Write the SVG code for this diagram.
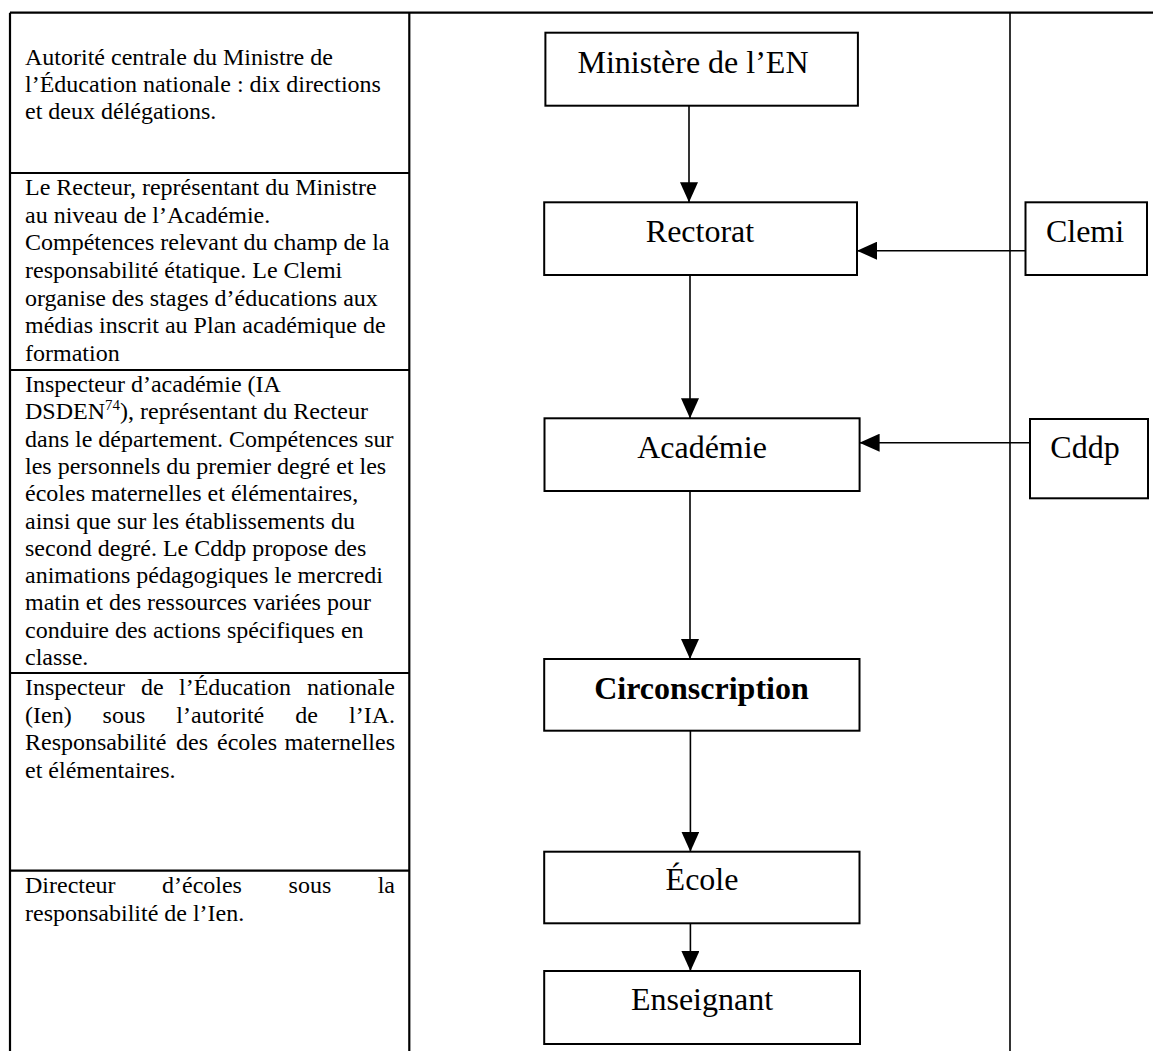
<svg xmlns="http://www.w3.org/2000/svg" width="1153" height="1051" viewBox="0 0 1153 1051">
<style>
  .tbl { stroke: #000; stroke-width: 2.2; fill: none; }
  .thin { stroke: #000; stroke-width: 1.6; fill: none; }
  .box { fill: #fff; stroke: #000; stroke-width: 2; }
  .conn { stroke: #000; stroke-width: 1.6; fill: none; }
  .desc { font-family: "Liberation Serif", "Times New Roman", serif; font-size: 24px; fill: #000; }
  .lbl { font-family: "Liberation Serif", "Times New Roman", serif; font-size: 32px; fill: #000; text-anchor: middle; }
  .bold { font-weight: bold; }
</style>
<defs>
  <marker id="ah" viewBox="0 0 10 10" refX="10" refY="5" markerWidth="20" markerHeight="18" markerUnits="userSpaceOnUse" orient="auto" preserveAspectRatio="none">
    <path d="M0,0 L10,5 L0,10 Z" fill="#000"/>
  </marker>
</defs>
<rect x="0" y="0" width="1153" height="1051" fill="#fff"/>

<g id="table">
  <line class="tbl" x1="10" y1="12.7" x2="1153" y2="12.7"/>
  <line class="tbl" x1="10" y1="12.7" x2="10" y2="1051"/>
  <line class="tbl" x1="409.3" y1="12.7" x2="409.3" y2="1051"/>
  <line class="thin" x1="1010" y1="12.7" x2="1010" y2="1051"/>
  <line class="tbl" x1="10" y1="173" x2="409.3" y2="173"/>
  <line class="tbl" x1="10" y1="370" x2="409.3" y2="370"/>
  <line class="tbl" x1="10" y1="673" x2="409.3" y2="673"/>
  <line class="tbl" x1="10" y1="870.7" x2="409.3" y2="870.7"/>
</g>

<g id="desc-ministere" class="desc">
  <text x="25" y="64.5">Autorité centrale du Ministre de</text>
  <text x="25" y="91.5">l’Éducation nationale : dix directions</text>
  <text x="25" y="118.5">et deux délégations.</text>
</g>
<g id="desc-rectorat" class="desc">
  <text x="25" y="195">Le Recteur, représentant du Ministre</text>
  <text x="25" y="222.7">au niveau de l’Académie.</text>
  <text x="25" y="250.4">Compétences relevant du champ de la</text>
  <text x="25" y="278">responsabilité étatique. Le Clemi</text>
  <text x="25" y="305.7">organise des stages d’éducations aux</text>
  <text x="25" y="333.4">médias inscrit au Plan académique de</text>
  <text x="25" y="361">formation</text>
</g>
<g id="desc-academie" class="desc">
  <text x="25" y="392">Inspecteur d’académie (IA</text>
  <text x="25" y="419.3">DSDEN<tspan font-size="15" dy="-9">74</tspan><tspan dy="9">), représentant du Recteur</tspan></text>
  <text x="25" y="446.6">dans le département. Compétences sur</text>
  <text x="25" y="473.9">les personnels du premier degré et les</text>
  <text x="25" y="501.2">écoles maternelles et élémentaires,</text>
  <text x="25" y="528.5">ainsi que sur les établissements du</text>
  <text x="25" y="555.8">second degré. Le Cddp propose des</text>
  <text x="25" y="583.1">animations pédagogiques le mercredi</text>
  <text x="25" y="610.4">matin et des ressources variées pour</text>
  <text x="25" y="637.7">conduire des actions spécifiques en</text>
  <text x="25" y="665">classe.</text>
</g>
<g id="desc-circonscription" class="desc">
  <text x="25" y="695">Inspecteur</text>
  <text x="141" y="695">de</text>
  <text x="179" y="695">l’Éducation</text>
  <text x="395" y="695" text-anchor="end">nationale</text>
  <text x="25" y="722.5">(Ien)</text>
  <text x="102.6" y="722.5">sous</text>
  <text x="176.3" y="722.5">l’autorité</text>
  <text x="295.3" y="722.5">de</text>
  <text x="395" y="722.5" text-anchor="end">l’IA.</text>
  <text x="25" y="750">Responsabilité</text>
  <text x="176" y="750">des</text>
  <text x="217" y="750">écoles</text>
  <text x="395" y="750" text-anchor="end">maternelles</text>
  <text x="25" y="777.5">et élémentaires.</text>
</g>
<g id="desc-ecole" class="desc">
  <text x="25" y="893">Directeur</text>
  <text x="162" y="893">d’écoles</text>
  <text x="288.6" y="893">sous</text>
  <text x="395" y="893" text-anchor="end">la</text>
  <text x="25" y="920.5">responsabilité de l’Ien.</text>
</g>

<g id="connectors">
  <line class="conn" x1="689" y1="105.7" x2="689" y2="202.3" marker-end="url(#ah)"/>
  <line class="conn" x1="690" y1="275" x2="690" y2="418.3" marker-end="url(#ah)"/>
  <line class="conn" x1="690" y1="491" x2="690" y2="659" marker-end="url(#ah)"/>
  <line class="conn" x1="690.4" y1="730.7" x2="690.4" y2="851.7" marker-end="url(#ah)"/>
  <line class="conn" x1="690.4" y1="923.3" x2="690.4" y2="971" marker-end="url(#ah)"/>
  <line class="conn" x1="1025.5" y1="250.7" x2="857" y2="250.7" marker-end="url(#ah)"/>
  <line class="conn" x1="1030" y1="442.7" x2="859.6" y2="442.7" marker-end="url(#ah)"/>
</g>

<g id="node-ministere">
  <rect class="box" x="545.4" y="32.7" width="312.5" height="73"/>
  <text class="lbl" x="693" y="73.3">Ministère de l’EN</text>
</g>
<g id="node-rectorat">
  <rect class="box" x="544.2" y="202.3" width="312.8" height="72.7"/>
  <text class="lbl" x="700" y="242.3">Rectorat</text>
</g>
<g id="node-clemi">
  <rect class="box" x="1025.5" y="202.3" width="121.5" height="72.7"/>
  <text class="lbl" x="1085" y="242.3">Clemi</text>
</g>
<g id="node-academie">
  <rect class="box" x="544.5" y="418.3" width="315.1" height="72.7"/>
  <text class="lbl" x="702" y="458.3">Académie</text>
</g>
<g id="node-cddp">
  <rect class="box" x="1030" y="419" width="118" height="79.3"/>
  <text class="lbl" x="1085" y="458.3">Cddp</text>
</g>
<g id="node-circonscription">
  <rect class="box" x="544.2" y="659" width="315.3" height="71.7"/>
  <text class="lbl bold" x="701.5" y="699">Circonscription</text>
</g>
<g id="node-ecole">
  <rect class="box" x="544.2" y="851.7" width="315.3" height="71.6"/>
  <text class="lbl" x="702" y="890">École</text>
</g>
<g id="node-enseignant">
  <rect class="box" x="544.2" y="971" width="315.8" height="73"/>
  <text class="lbl" x="702" y="1010">Enseignant</text>
</g>
</svg>
